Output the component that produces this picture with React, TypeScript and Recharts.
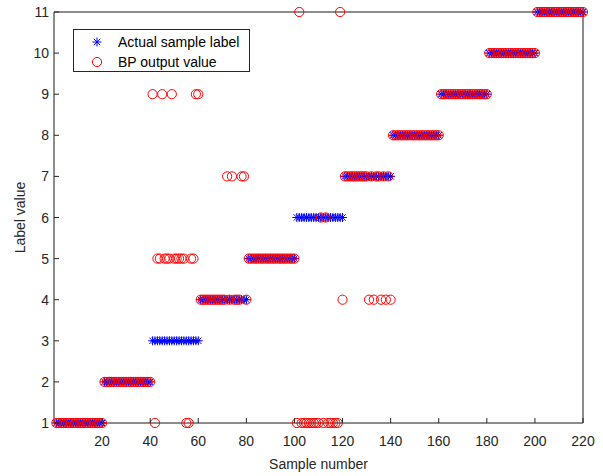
import { ScatterChart, Scatter, XAxis, YAxis, CartesianGrid, Legend } from 'recharts';

// true class of each sample, 20 samples per class
const actualLabel = [
  1, 1, 1, 1, 1, 1, 1, 1, 1, 1, 1, 1, 1, 1, 1, 1, 1, 1, 1, 1,
  2, 2, 2, 2, 2, 2, 2, 2, 2, 2, 2, 2, 2, 2, 2, 2, 2, 2, 2, 2,
  3, 3, 3, 3, 3, 3, 3, 3, 3, 3, 3, 3, 3, 3, 3, 3, 3, 3, 3, 3,
  4, 4, 4, 4, 4, 4, 4, 4, 4, 4, 4, 4, 4, 4, 4, 4, 4, 4, 4, 4,
  5, 5, 5, 5, 5, 5, 5, 5, 5, 5, 5, 5, 5, 5, 5, 5, 5, 5, 5, 5,
  6, 6, 6, 6, 6, 6, 6, 6, 6, 6, 6, 6, 6, 6, 6, 6, 6, 6, 6, 6,
  7, 7, 7, 7, 7, 7, 7, 7, 7, 7, 7, 7, 7, 7, 7, 7, 7, 7, 7, 7,
  8, 8, 8, 8, 8, 8, 8, 8, 8, 8, 8, 8, 8, 8, 8, 8, 8, 8, 8, 8,
  9, 9, 9, 9, 9, 9, 9, 9, 9, 9, 9, 9, 9, 9, 9, 9, 9, 9, 9, 9,
  10, 10, 10, 10, 10, 10, 10, 10, 10, 10, 10, 10, 10, 10, 10, 10, 10, 10, 10, 10,
  11, 11, 11, 11, 11, 11, 11, 11, 11, 11, 11, 11, 11, 11, 11, 11, 11, 11, 11, 11,
];

// network output
const bpOutput = [
  1, 1, 1, 1, 1, 1, 1, 1, 1, 1, 1, 1, 1, 1, 1, 1, 1, 1, 1, 1,
  2, 2, 2, 2, 2, 2, 2, 2, 2, 2, 2, 2, 2, 2, 2, 2, 2, 2, 2, 2,
  9, 1, 5, 5, 9, 5, 5, 5, 9, 5, 5, 5, 5, 5, 1, 1, 5, 5, 9, 9,
  4, 4, 4, 4, 4, 4, 4, 4, 4, 4, 4, 7, 4, 7, 4, 4, 4, 7, 7, 4,
  5, 5, 5, 5, 5, 5, 5, 5, 5, 5, 5, 5, 5, 5, 5, 5, 5, 5, 5, 5,
  1, 11, 1, 1, 1, 1, 1, 1, 1, 1, 6, 1, 6, 1, 1, 1, 1, 1, 11, 4,
  7, 7, 7, 7, 7, 7, 7, 7, 7, 7, 4, 7, 4, 7, 7, 4, 7, 4, 7, 4,
  8, 8, 8, 8, 8, 8, 8, 8, 8, 8, 8, 8, 8, 8, 8, 8, 8, 8, 8, 8,
  9, 9, 9, 9, 9, 9, 9, 9, 9, 9, 9, 9, 9, 9, 9, 9, 9, 9, 9, 9,
  10, 10, 10, 10, 10, 10, 10, 10, 10, 10, 10, 10, 10, 10, 10, 10, 10, 10, 10, 10,
  11, 11, 11, 11, 11, 11, 11, 11, 11, 11, 11, 11, 11, 11, 11, 11, 11, 11, 11, 11,
];

const xTicks = [20, 40, 60, 80, 100, 120, 140, 160, 180, 200, 220];
const yTicks = [1, 2, 3, 4, 5, 6, 7, 8, 9, 10, 11];

const AXIS = '#262626';
const FONT = '"Liberation Sans", Arial, sans-serif';

const actualData = actualLabel.map((v, i) => ({ x: i + 1, y: v }));
const outputData = bpOutput.map((v, i) => ({ x: i + 1, y: v }));

const Asterisk = (props: any) => {
  const { cx, cy } = props;
  const r = 4.5;
  const d = 3.2;
  return (
    <g stroke="#0000ff" strokeWidth={1}>
      <line x1={cx - r} y1={cy} x2={cx + r} y2={cy} />
      <line x1={cx} y1={cy - r} x2={cx} y2={cy + r} />
      <line x1={cx - d} y1={cy - d} x2={cx + d} y2={cy + d} />
      <line x1={cx - d} y1={cy + d} x2={cx + d} y2={cy - d} />
    </g>
  );
};

const Ring = (props: any) => {
  const { cx, cy } = props;
  return <circle cx={cx} cy={cy} r={4.6} fill="none" stroke="#ff0000" strokeWidth={1} />;
};

const BottomTick = ({ x, y, payload }: any) => (
  <g>
    <line x1={x} y1={y} x2={x} y2={y - 5} stroke={AXIS} />
    <text x={x} y={y + 23} textAnchor="middle" fill={AXIS} fontSize={14} fontFamily={FONT}>
      {payload.value}
    </text>
  </g>
);

const LeftTick = ({ x, y, payload }: any) => (
  <g>
    <line x1={x} y1={y} x2={x + 5} y2={y} stroke={AXIS} />
    <text x={x - 5} y={y + 5} textAnchor="end" fill={AXIS} fontSize={14} fontFamily={FONT}>
      {payload.value}
    </text>
  </g>
);

const TopTick = ({ x, y }: any) => <line x1={x} y1={y} x2={x} y2={y + 5} stroke={AXIS} />;
const RightTick = ({ x, y }: any) => <line x1={x} y1={y} x2={x - 5} y2={y} stroke={AXIS} />;

const LegendBox = () => (
  <div
    style={{
      width: 175,
      height: 41,
      border: '1px solid #262626',
      background: '#fff',
      fontFamily: FONT,
      fontSize: 14,
      color: '#000',
      boxSizing: 'content-box',
    }}
  >
    <svg width={175} height={41}>
      <Asterisk cx={23} cy={12} />
      <text x={44} y={17} fontSize={14} fontFamily={FONT}>Actual sample label</text>
      <Ring cx={23} cy={32} />
      <text x={44} y={37} fontSize={14} fontFamily={FONT}>BP output value</text>
    </svg>
  </div>
);

export default function App() {
  return (
    <div style={{ position: 'absolute', left: 0, top: 0, width: 603, height: 476, background: '#fff' }}>
      <ScatterChart width={603} height={476} margin={{ top: 0, right: 0, bottom: 0, left: 0 }}>
        <CartesianGrid stroke="#e6e6e6" strokeWidth={1} />
        <XAxis
          xAxisId="b"
          type="number"
          dataKey="x"
          domain={[0, 220]}
          ticks={xTicks}
          orientation="bottom"
          height={53}
          stroke={AXIS}
          tickSize={0}
          tickMargin={0}
          tick={<BottomTick />}
          label={{ value: 'Sample number', position: 'insideBottom', offset: 7, fill: AXIS, fontSize: 14, fontFamily: FONT }}
        />
        <XAxis
          xAxisId="t"
          type="number"
          dataKey="x"
          domain={[0, 220]}
          ticks={xTicks}
          orientation="top"
          height={12}
          stroke={AXIS}
          tickSize={0}
          tickMargin={0}
          tick={<TopTick />}
        />
        <YAxis
          yAxisId="l"
          type="number"
          dataKey="y"
          domain={[1, 11]}
          ticks={yTicks}
          orientation="left"
          width={54}
          stroke={AXIS}
          tickSize={0}
          tickMargin={0}
          tick={<LeftTick />}
          label={{ value: 'Label value', angle: -90, position: 'insideLeft', offset: 20, fill: AXIS, fontSize: 14, fontFamily: FONT, style: { textAnchor: 'middle' } }}
        />
        <YAxis
          yAxisId="r"
          type="number"
          dataKey="y"
          domain={[1, 11]}
          ticks={yTicks}
          orientation="right"
          width={20}
          stroke={AXIS}
          tickSize={0}
          tickMargin={0}
          tick={<RightTick />}
        />
        <Legend
          layout="vertical"
          verticalAlign="middle"
          align="center"
          content={<LegendBox />}
          wrapperStyle={{ left: 73, top: 29, width: 177, height: 43 }}
        />
        <Scatter
          name="Actual sample label"
          data={actualData}
          xAxisId="b"
          yAxisId="l"
          shape={<Asterisk />}
          isAnimationActive={false}
        />
        <Scatter
          name="BP output value"
          data={outputData}
          xAxisId="b"
          yAxisId="l"
          shape={<Ring />}
          isAnimationActive={false}
        />
      </ScatterChart>
    </div>
  );
}
